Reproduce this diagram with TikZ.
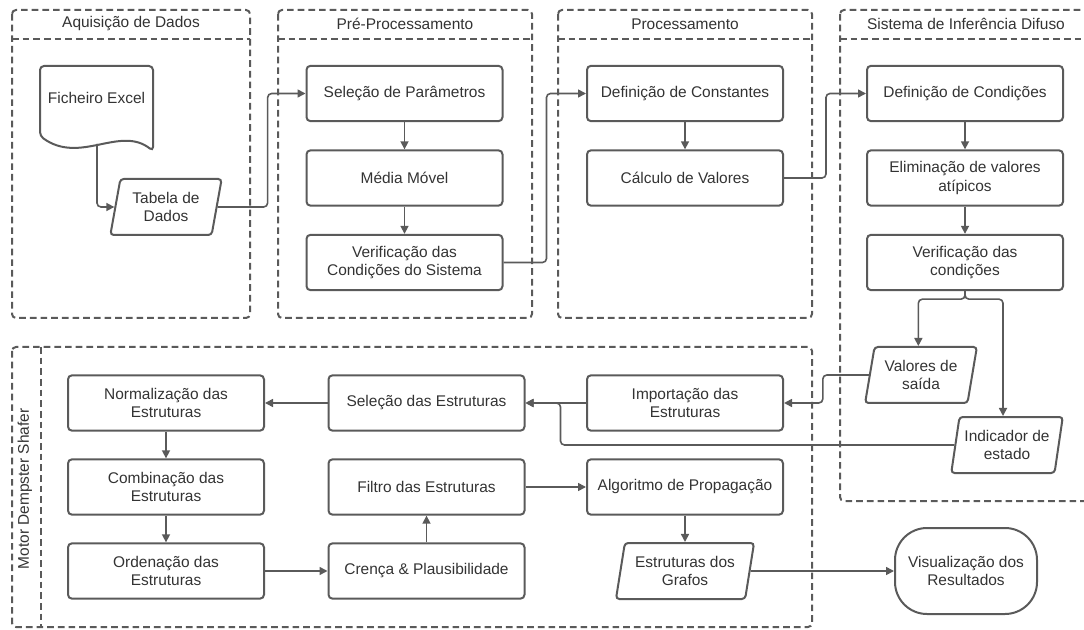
\documentclass[tikz,border=0pt]{standalone}
\usepackage{fontspec}
\setmainfont{Liberation Sans}
\usetikzlibrary{arrows.meta,shapes.geometric,calc}
\definecolor{txt}{HTML}{333333}
\definecolor{ln}{HTML}{5A5A5A}
\begin{document}
\begin{tikzpicture}[x=0.75pt,y=-0.75pt,
  font=\fontsize{11.6pt}{13.7pt}\selectfont, text=txt,
  lane/.style={draw=ln, line width=1.5pt, dash pattern=on 5pt off 3pt, rounded corners=3pt},
  hdr/.style={inner sep=0pt},
  shp/.style={draw=ln, line width=1.5pt, rounded corners=3pt},
  proc/.style={shp, minimum width=147pt, minimum height=41.5pt, inner sep=0pt, align=center},
  io/.style={draw=ln, line width=1.5pt, rounded corners=2.5pt, trapezium, trapezium left angle=76, trapezium right angle=104, trapezium stretches=true, minimum width=84pt, minimum height=42pt, inner sep=0pt, align=center},
  term/.style={draw=ln, line width=1.5pt, rounded corners=24pt, minimum width=106.5pt, minimum height=64.5pt, inner sep=0pt, align=center},
  conn/.style={draw=ln, line width=1.2pt, rounded corners=3pt},
  arr/.style={conn, -{Triangle[length=6pt,width=6pt]}},
]
\useasboundingbox (0,0) rectangle (1084,630);

% lanes
\draw[lane] (12,10) rectangle (250,318);
\draw[lane] (12,39) -- (250,39);
\draw[lane] (278,10) rectangle (532,318);
\draw[lane] (278,39) -- (532,39);
\draw[lane] (558,10) rectangle (812,318);
\draw[lane] (558,39) -- (812,39);
\begin{scope}
  \clip (0,0) rectangle (1084,630);
  \draw[lane] (840,10) rectangle (1130,501);
  \draw[lane] (840,39) -- (1130,39);
\end{scope}
\draw[lane] (12,347) rectangle (812,627);
\draw[lane] (41,347) -- (41,627);

\node[hdr] (h1) at (131,24) {Aquisição de Dados};
\node[hdr] (h2) at (405,24) {Pré-Processamento};
\node[hdr] (h3) at (685,24) {Processamento};
\node[hdr] (h4) at (966,24) {Sistema de Inferência Difuso};
\node[hdr, rotate=90] (h5) at (25,489) {Motor Dempster Shafer};

% Aquisicao
\draw[shp] (40,66) -- (153,66) -- (153,151) .. controls (120,125) and (80,165) .. (40,136) -- cycle;
\node (fich) at (96.5,98) {Ficheiro Excel};
\coordinate (fichout) at (97,144);
\node[io] (tabela) at (166,207) {Tabela de\\Dados};

% Pre-processamento
\node[proc] (selpar) at (404.5,93.5) {Seleção de Parâmetros};
\node[proc] (media) at (404.5,178) {Média Móvel};
\node[proc] (verif1) at (404.5,262.5) {Verificação das\\Condições do Sistema};

% Processamento
\node[proc] (defconst) at (685,93.5) {Definição de Constantes};
\node[proc] (calc) at (685,178) {Cálculo de Valores};

% Sistema de inferencia
\node[proc] (defcond) at (965,93.5) {Definição de Condições};
\node[proc] (elim) at (965,178) {Eliminação de valores\\atípicos};
\node[proc] (verif2) at (965,262.5) {Verificação das\\condições};
\node[io] (valores) at (921,375) {Valores de\\saída};
\node[io] (indic) at (1007,445) {Indicador de\\estado};

% Motor
\node[proc] (norm) at (166,403) {Normalização das\\Estruturas};
\node[proc] (comb) at (166,487) {Combinação das\\Estruturas};
\node[proc] (orden) at (166,571) {Ordenação das\\Estruturas};
\node[proc] (selest) at (426.5,403) {Seleção das Estruturas};
\node[proc] (filtro) at (426.5,487) {Filtro das Estruturas};
\node[proc] (crenca) at (426.5,571) {Crença \& Plausibilidade};
\node[proc] (import) at (685,403) {Importação das\\Estruturas};
\node[proc] (algo) at (685,487) {Algoritmo de Propagação};
\node[io, minimum width=104pt] (grafos) at (685,571) {Estruturas dos\\Grafos};
\node[term] (vis) at (966,571) {Visualização dos\\Resultados};

% connectors
\draw[arr] (fichout) |- (tabela.west);
\draw[arr] (tabela.east) -- ++(50,0) |- (selpar.west);
\draw[arr] (selpar) -- (media);
\draw[arr] (media) -- (verif1);
\draw[arr] (verif1.east) -- ++(43,0) |- (defconst.west);
\draw[arr] (defconst) -- (calc);
\draw[arr] (calc.east) -- ++(42,0) |- (defcond.west);
\draw[arr] (defcond) -- (elim);
\draw[arr] (elim) -- (verif2);
\draw[arr] (verif2.south) -- ++(0,8) -| ([xshift=-2pt]valores.north);
\draw[arr] (verif2.south) -- ++(0,8) -| ([xshift=-3pt]indic.north);
\draw[arr] (valores.west) -- ++(-46,0) |- (import.east);
\draw[arr] (indic.west) -| ($(selest.east)+(35,0)$) -- (selest.east);
\draw[arr] (import) -- (selest);
\draw[arr] (selest) -- (norm);
\draw[arr] (norm) -- (comb);
\draw[arr] (comb) -- (orden);
\draw[arr] (orden) -- (crenca);
\draw[arr] (crenca) -- (filtro);
\draw[arr] (filtro) -- (algo);
\draw[arr] (algo) -- (grafos);
\draw[arr] (grafos) -- (vis);
\end{tikzpicture}
\end{document}
